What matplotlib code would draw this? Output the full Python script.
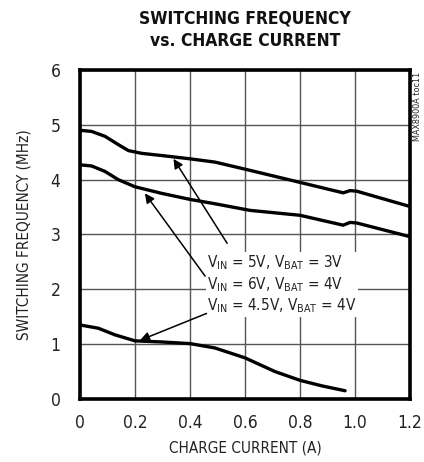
import matplotlib
matplotlib.use("Agg")
import matplotlib.pyplot as plt

plt.rcParams["font.family"] = ["DejaVu Sans"]
plt.rcParams["font.stretch"] = "condensed"
plt.rcParams["mathtext.fontset"] = "custom"
plt.rcParams["mathtext.rm"] = "DejaVu Sans:stretch=condensed"

# charge current (A) and switching frequency (MHz) for each curve
i_5v3v = [0.0, 0.042, 0.091, 0.139, 0.176, 0.224, 0.297, 0.4, 0.491, 0.618, 0.8, 0.957, 0.982, 1.006, 1.2]
f_5v3v = [4.90, 4.88, 4.79, 4.64, 4.53, 4.48, 4.44, 4.38, 4.32, 4.17, 3.95, 3.76, 3.80, 3.79, 3.51]

i_6v4v = [0.0, 0.042, 0.091, 0.139, 0.2, 0.297, 0.4, 0.491, 0.618, 0.8, 0.957, 0.982, 1.006, 1.2]
f_6v4v = [4.27, 4.25, 4.15, 4.00, 3.87, 3.75, 3.64, 3.56, 3.44, 3.35, 3.17, 3.22, 3.21, 2.96]

i_45v4v = [0.0, 0.067, 0.127, 0.2, 0.297, 0.4, 0.491, 0.6, 0.709, 0.8, 0.879, 0.964]
f_45v4v = [1.35, 1.29, 1.17, 1.06, 1.04, 1.01, 0.93, 0.75, 0.50, 0.34, 0.24, 0.15]

x_ticks = [0, 0.2, 0.4, 0.6, 0.8, 1.0, 1.2]
x_tick_labels = ["0", "0.2", "0.4", "0.6", "0.8", "1.0", "1.2"]
y_ticks = [0, 1, 2, 3, 4, 5, 6]

fig = plt.figure(figsize=(4.24, 4.62), dpi=100)
ax = fig.add_axes([0.1887, 0.1364, 0.7783, 0.7121])

for xs, ys in [(i_5v3v, f_5v3v), (i_6v4v, f_6v4v), (i_45v4v, f_45v4v)]:
    ax.plot(xs, ys, color="black", lw=2.4, solid_capstyle="round", solid_joinstyle="round", zorder=3)

ax.set_xlim(0, 1.2)
ax.set_ylim(0, 6)
ax.set_xticks(x_ticks)
ax.set_xticklabels(x_tick_labels)
ax.set_yticks(y_ticks)
ax.tick_params(length=0, labelsize=12.5, colors="#222222")
ax.tick_params(axis="x", pad=11)
ax.tick_params(axis="y", pad=14)
ax.grid(True, color="#555555", lw=1.0, zorder=1)
for s in ax.spines.values():
    s.set_linewidth(2.6)
    s.set_zorder(4)

ax.set_xlabel("CHARGE CURRENT (A)", fontsize=11, color="#222222", labelpad=6)
ax.set_ylabel("SWITCHING FREQUENCY (MHz)", fontsize=11, color="#222222", labelpad=14)

fig.text(0.578, 0.935, "SWITCHING FREQUENCY\nvs. CHARGE CURRENT", ha="center", va="center",
         fontsize=12.5, fontweight="bold", linespacing=1.35, color="#111111")

fig.text(0.985, 0.845, "MAX8900A toc11", rotation=90, ha="center", va="top", fontsize=6.5, color="#222222")

labels = [r"V$_{\mathrm{IN}}$ = 5V, V$_{\mathrm{BAT}}$ = 3V",
          r"V$_{\mathrm{IN}}$ = 6V, V$_{\mathrm{BAT}}$ = 4V",
          r"V$_{\mathrm{IN}}$ = 4.5V, V$_{\mathrm{BAT}}$ = 4V"]
ax.text(0.462, 2.09, "\n".join(labels), ha="left", va="center", fontsize=11,
        linespacing=1.2, color="#222222", zorder=5,
        bbox=dict(facecolor="white", edgecolor="none", pad=1.0))

arrows = [((0.34, 4.38), (0.535, 2.84)),
          ((0.236, 3.75), (0.455, 2.24)),
          ((0.218, 1.07), (0.46, 1.56))]
for tip, tail in arrows:
    ax.annotate("", xy=tip, xytext=tail, zorder=6,
                arrowprops=dict(arrowstyle="-|>", color="black", lw=1.1,
                                mutation_scale=14, shrinkA=0, shrinkB=0))

fig.savefig("out.png", dpi=100)
